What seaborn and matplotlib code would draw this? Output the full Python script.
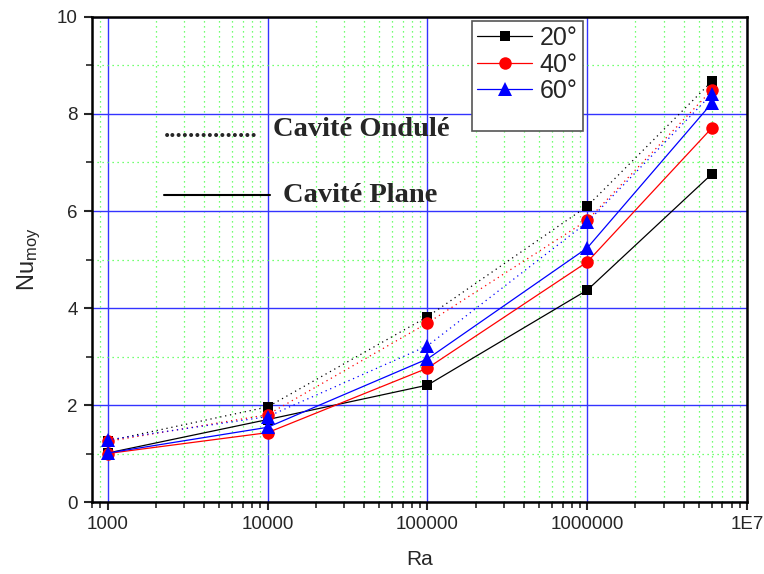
import pandas as pd
import seaborn as sns
import matplotlib
matplotlib.use('Agg')
import matplotlib.pyplot as plt
from matplotlib.lines import Line2D
from matplotlib.ticker import FixedLocator, FixedFormatter, NullFormatter, MultipleLocator

# Données
ra = [1000, 10000, 100000, 1000000, 6000000]
angles = ['20°', '40°', '60°']
nu_plane = {
    '20°': [1.01, 1.70, 2.41, 4.37, 6.76],
    '40°': [1.00, 1.43, 2.76, 4.95, 7.71],
    '60°': [1.01, 1.54, 2.95, 5.24, 8.22],
}
nu_ondule = {
    '20°': [1.26, 1.96, 3.82, 6.10, 8.67],
    '40°': [1.25, 1.80, 3.69, 5.81, 8.49],
    '60°': [1.28, 1.76, 3.22, 5.77, 8.41],
}
x_ticks = [1000, 10000, 100000, 1000000, 10000000]
x_tick_labels = ['1000', '10000', '100000', '1000000', '1E7']

colors = {'20°': 'black', '40°': 'red', '60°': 'blue'}
markers = {'20°': 's', '40°': 'o', '60°': '^'}
msize = {'20°': 7, '40°': 9, '60°': 10}

rows = []
for a in angles:
    for r, v in zip(ra, nu_plane[a]):
        rows.append({'Ra': r, 'Nu': v, 'angle': a, 'cavite': 'Plane'})
    for r, v in zip(ra, nu_ondule[a]):
        rows.append({'Ra': r, 'Nu': v, 'angle': a, 'cavite': 'Ondule'})
df = pd.DataFrame(rows)

sns.set_style('white')
plt.rcParams['font.family'] = ['Liberation Sans', 'DejaVu Sans']

fig = plt.figure(figsize=(7.64, 5.74), dpi=100)
ax = fig.add_axes([0.120, 0.1254, 0.858, 0.8450])

for a in angles:
    for cav, ls in [('Ondule', (0, (1, 3))), ('Plane', '-')]:
        d = df[(df['angle'] == a) & (df['cavite'] == cav)]
        sns.lineplot(data=d, x='Ra', y='Nu', ax=ax, color=colors[a], marker=markers[a],
                     markersize=msize[a], markeredgewidth=0, linestyle=ls, linewidth=0.9,
                     legend=False, zorder=3)

ax.set_xscale('log')
ax.set_xlim(794, 1e7)
ax.set_ylim(0, 10)
ax.xaxis.set_major_locator(FixedLocator(x_ticks))
ax.xaxis.set_major_formatter(FixedFormatter(x_tick_labels))
ax.xaxis.set_minor_formatter(NullFormatter())
ax.yaxis.set_major_locator(MultipleLocator(2))
ax.yaxis.set_minor_locator(MultipleLocator(1))

ax.grid(which='minor', color='#44ff44', linestyle=(0, (1, 3)), linewidth=0.9, zorder=0)
ax.grid(which='major', color='#3333ff', linestyle='-', linewidth=1.0, zorder=1)
ax.set_axisbelow(True)

for s in ax.spines.values():
    s.set_color('black')
    s.set_linewidth(1.8)
ax.tick_params(which='major', direction='out', length=6, width=1.5, labelsize=13.5,
               bottom=True, left=True, top=False, right=False, pad=4)
ax.tick_params(which='minor', direction='out', length=4, width=1.2,
               bottom=True, left=True, top=False, right=False)

ax.set_xlabel('Ra', fontsize=15, labelpad=12)
ax.set_ylabel(r'$\mathregular{Nu_{moy}}$', fontsize=17, labelpad=10)

handles = [Line2D([], [], color=colors[a], marker=markers[a], markersize=msize[a],
                  markeredgewidth=0, linewidth=0.9) for a in angles]
handles.append(Line2D([], [], linestyle='none'))
leg = ax.legend(handles, angles + [' '], loc='upper left',
                bbox_to_anchor=(472 / 764, (574 - 21) / 574), bbox_transform=fig.transFigure,
                fontsize=18, fancybox=False, framealpha=1, edgecolor='#555555',
                handlelength=2.2, labelspacing=0.1, borderpad=0.2, handletextpad=0.3,
                borderaxespad=0)
leg.get_texts()[3].set_fontsize(12)
leg.get_frame().set_linewidth(1.2)

# Annotations
fig.text(164 / 764, 1 - 137 / 574, '...............', fontsize=18, fontweight='bold',
         family='Liberation Serif', va='baseline', ha='left')
fig.text(273 / 764, 1 - 130 / 574, 'Cavité Ondulé', fontsize=20.5, fontweight='bold',
         family='Liberation Serif', va='center', ha='left')
fig.add_artist(Line2D([164 / 764, 270 / 764], [1 - 195 / 574, 1 - 195 / 574],
                      color='black', linewidth=1.5, transform=fig.transFigure))
fig.text(283 / 764, 1 - 195 / 574, 'Cavité Plane', fontsize=20.5, fontweight='bold',
         family='Liberation Serif', va='center', ha='left')

fig.savefig('out.png', dpi=100)
